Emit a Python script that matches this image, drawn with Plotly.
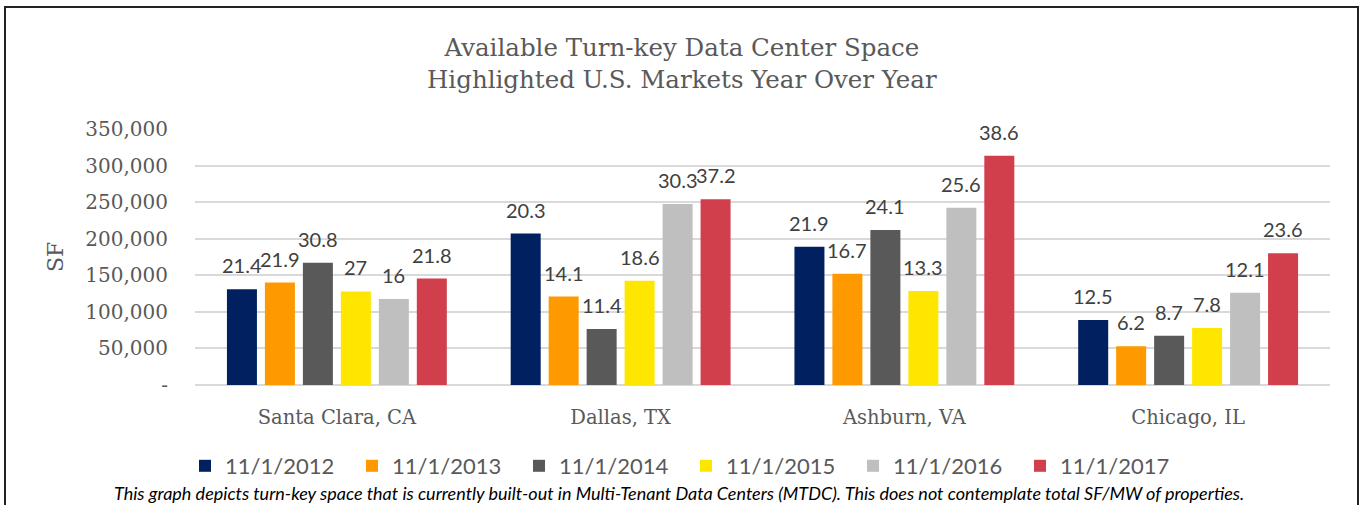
import plotly.graph_objects as go

categories = ["Santa Clara, CA", "Dallas, TX", "Ashburn, VA", "Chicago, IL"]
series_names = ["11/1/2012", "11/1/2013", "11/1/2014", "11/1/2015", "11/1/2016", "11/1/2017"]

sf_2012 = [131000, 207000, 189000, 89000]
sf_2013 = [140000, 121000, 152000, 53000]
sf_2014 = [167000, 76500, 212000, 67500]
sf_2015 = [128000, 142500, 128500, 78000]
sf_2016 = [117500, 247500, 242500, 126000]
sf_2017 = [145500, 254000, 313500, 180000]

mw_2012 = ["21.4", "20.3", "21.9", "12.5"]
mw_2013 = ["21.9", "14.1", "16.7", "6.2"]
mw_2014 = ["30.8", "11.4", "24.1", "8.7"]
mw_2015 = ["27", "18.6", "13.3", "7.8"]
mw_2016 = ["16", "30.3", "25.6", "12.1"]
mw_2017 = ["21.8", "37.2", "38.6", "23.6"]

y_ticks = [0, 50000, 100000, 150000, 200000, 250000, 300000, 350000]
y_ticktext = ["-", "50,000", "100,000", "150,000", "200,000", "250,000", "300,000", "350,000"]

colors = ["#002060", "#FF9900", "#595959", "#FFE600", "#BFBFBF", "#D13F4C"]

values = [sf_2012, sf_2013, sf_2014, sf_2015, sf_2016, sf_2017]
labels = [mw_2012, mw_2013, mw_2014, mw_2015, mw_2016, mw_2017]

W, H = 1363, 505
L, R, T, B = 195, 33, 129, 120
pw = W - L - R
ph = H - T - B
BARGAP = 0.197
BARGROUPGAP = 0.21

def px_x(x):
    return (x - L) / pw

def px_y(y):
    return (H - B - y) / ph

fig = go.Figure()
for name, v, c in zip(series_names, values, colors):
    fig.add_trace(go.Bar(
        x=categories, y=v, name=name, marker=dict(color=c, line=dict(width=0)),
        hoverinfo="skip",
    ))

# data labels (MW values) above each bar
n = len(series_names)
slot_px = pw / len(categories) * (1 - BARGAP) / n
for i, (v, lab) in enumerate(zip(values, labels)):
    for cat, val, t in zip(categories, v, lab):
        fig.add_annotation(x=cat, y=val, xref="x", yref="y", text=t, showarrow=False,
                           xshift=(i - (n - 1) / 2) * slot_px, yshift=24,
                           xanchor="center", yanchor="middle",
                           font=dict(family="Lato", size=20, color="#404040"))

serif = "DejaVu Serif"
fig.update_layout(
    width=W, height=H,
    margin=dict(l=L, r=R, t=T, b=B, autoexpand=False),
    paper_bgcolor="white", plot_bgcolor="white",
    barmode="group", bargap=BARGAP, bargroupgap=BARGROUPGAP,
    showlegend=True,
    legend=dict(orientation="h", x=px_x(686), xanchor="center", xref="paper",
                y=px_y(466), yanchor="middle",
                font=dict(family="Lato", size=22, color="#595959"),
                entrywidth=122, entrywidthmode="pixels", itemwidth=30,
                traceorder="normal"),
    xaxis=dict(showgrid=False, showline=False, ticks="", ticklabelstandoff=18,
               tickfont=dict(family=serif, size=19.5, color="#595959")),
    yaxis=dict(range=[0, 350000], tickvals=y_ticks, ticktext=y_ticktext,
               showgrid=True, gridcolor="#D9D9D9", gridwidth=1.5,
               zeroline=True, zerolinecolor="#D9D9D9", zerolinewidth=1.5,
               ticks="", ticklabelstandoff=26,
               tickfont=dict(family=serif, size=20, color="#595959")),
    font=dict(family=serif, color="#595959"),
)

fig.add_annotation(text="Available Turn-key Data Center Space<br>Highlighted U.S. Markets Year Over Year",
                   xref="paper", yref="paper", x=px_x(682), y=px_y(63),
                   xanchor="center", yanchor="middle", showarrow=False,
                   font=dict(family=serif, size=24.5, color="#595959"))
fig.add_annotation(text="SF", xref="paper", yref="paper", x=px_x(55), y=px_y(257),
                   xanchor="center", yanchor="middle", textangle=-90, showarrow=False,
                   font=dict(family=serif, size=22, color="#595959"))
fig.add_annotation(text="<i>This graph depicts turn-key space that is currently built-out in Multi-Tenant Data Centers (MTDC). This does not contemplate total SF/MW of properties.</i>",
                   xref="paper", yref="paper", x=px_x(679), y=px_y(493),
                   xanchor="center", yanchor="middle", showarrow=False,
                   font=dict(family="Lato", size=18, color="#000000"))

fig.add_shape(type="rect", xref="paper", yref="paper",
              x0=px_x(5), x1=px_x(1358), y0=px_y(530), y1=px_y(7),
              line=dict(color="#222222", width=2), fillcolor="rgba(0,0,0,0)", layer="above")

fig.write_html("out.html")
